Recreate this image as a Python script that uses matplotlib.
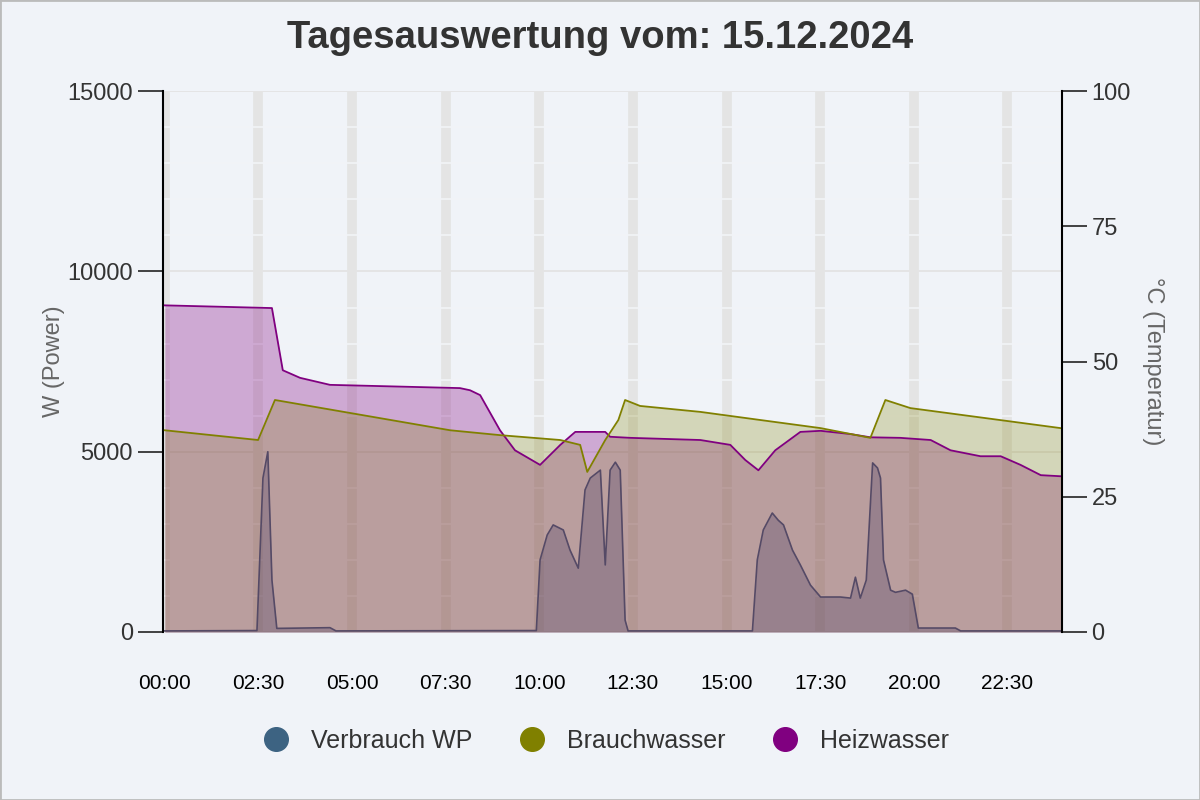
import matplotlib
matplotlib.use("Agg")
import matplotlib.pyplot as plt
from matplotlib.lines import Line2D

plt.rcParams["font.family"] = "Liberation Sans"

wp_h = [0, 2.46, 2.62, 2.75, 2.86, 2.99, 4.41, 4.57, 9.92, 10.02, 10.21, 10.37, 10.64, 10.82, 11.04, 11.22, 11.36, 11.63, 11.76, 11.89, 12.03, 12.16, 12.29, 12.37, 15.69, 15.82, 15.98, 16.22, 16.38, 16.52, 16.76, 16.97, 17.24, 17.51, 18.04, 18.31, 18.44, 18.57, 18.73, 18.90, 19.03, 19.11, 19.19, 19.38, 19.51, 19.78, 19.96, 20.12, 21.11, 21.25, 23.92]
wp_w = [30, 40, 4270, 5000, 1440, 100, 120, 30, 40, 2000, 2690, 2970, 2830, 2270, 1770, 3940, 4270, 4490, 1860, 4490, 4710, 4490, 330, 30, 30, 2000, 2830, 3300, 3100, 2970, 2270, 1860, 1300, 970, 970, 940, 1520, 940, 1440, 4690, 4550, 4270, 2000, 1160, 1100, 1160, 1050, 110, 110, 30, 30]

hz_h = [0, 2.86, 3.15, 3.61, 4.41, 7.88, 8.15, 8.42, 8.95, 9.35, 10.02, 10.56, 10.96, 11.76, 11.89, 12.43, 14.30, 15.10, 15.50, 15.85, 16.30, 16.97, 17.51, 18.31, 18.84, 19.64, 20.45, 20.98, 21.78, 22.32, 22.85, 23.39, 23.92]
hz_t = [60.4, 59.9, 48.4, 47.0, 45.7, 45.1, 44.7, 43.8, 37.3, 33.6, 30.9, 34.6, 37.0, 37.0, 36.1, 35.9, 35.5, 34.6, 31.8, 29.9, 33.6, 37.0, 37.2, 36.6, 36.0, 35.9, 35.5, 33.6, 32.5, 32.5, 30.9, 29.0, 28.8]

bw_h = [0, 2.49, 2.94, 7.62, 8.95, 10.56, 11.09, 11.28, 11.76, 12.11, 12.29, 12.69, 14.30, 15.90, 17.51, 18.84, 19.24, 19.91, 23.92]
bw_t = [37.3, 35.5, 42.9, 37.3, 36.4, 35.5, 34.6, 29.6, 35.5, 39.2, 42.9, 41.8, 40.7, 39.2, 37.7, 35.9, 42.9, 41.4, 37.7]

xticks = [0, 2.5, 5, 7.5, 10, 12.5, 15, 17.5, 20, 22.5]
xlabels = ["00:00", "02:30", "05:00", "07:30", "10:00", "12:30", "15:00", "17:30", "20:00", "22:30"]

bg = "#f0f3f8"
fig = plt.figure(figsize=(12, 8), dpi=100, facecolor=bg)
ax = fig.add_axes([0.1358, 0.21, 0.749, 0.676])
ax.set_facecolor(bg)
ax2 = ax.twinx()

for t in xticks:
    ax.axvline(t, color="#e4e4e4", lw=7, zorder=0)
for v in range(0, 15001, 1000):
    ax.axhline(v, color="#f2f4f7", lw=1.2, zorder=0.5)
for v in range(0, 15001, 5000):
    ax.axhline(v, color="#e2e2e2", lw=1.2, zorder=0.6)

ax.set_xlim(-0.05, 23.95)
ax.set_ylim(0, 15000)
ax2.set_ylim(0, 100)

ax2.fill_between(hz_h, hz_t, color="#800080", alpha=0.3, lw=0)
ax2.plot(hz_h, hz_t, color="#800080", lw=1.3)
ax2.fill_between(bw_h, bw_t, color="#808000", alpha=0.25, lw=0)
ax2.plot(bw_h, bw_t, color="#808000", lw=1.3)
ax2.fill_between(wp_h, [w / 150 for w in wp_w], color="#4a3f66", alpha=0.3, lw=0)
ax2.plot(wp_h, [w / 150 for w in wp_w], color="#554a66", lw=1.2)

ax.set_xticks(xticks)
ax.set_xticklabels(xlabels, fontsize=15, color="#000")
ax.set_yticks([0, 5000, 10000, 15000])
ax.tick_params(axis="y", labelsize=17, length=18, width=1.3, colors="#333")
ax.tick_params(axis="x", length=0, pad=30, labelsize=15)
ax2.set_yticks([0, 25, 50, 75, 100])
ax2.tick_params(axis="y", labelsize=17, length=18, width=1.3, colors="#333")
for a in (ax, ax2):
    for s in ("top", "bottom"):
        a.spines[s].set_visible(False)
ax.spines["left"].set_linewidth(1.5)
ax2.spines["right"].set_linewidth(1.5)
ax2.spines["left"].set_visible(False)
ax.spines["right"].set_visible(False)
ax.set_ylabel("W (Power)", fontsize=17, color="#666", labelpad=2)
ax2.set_ylabel("°C (Temperatur)", fontsize=17, color="#666", rotation=-90, labelpad=24)

fig.suptitle("Tagesauswertung vom: 15.12.2024", fontsize=27.5, fontweight="bold", color="#333", y=0.975)

handles = [Line2D([], [], marker="o", ls="", ms=17, color=c) for c in ("#3d6382", "#808000", "#800080")]
fig.legend(handles, ["Verbrauch WP", "Brauchwasser", "Heizwasser"], loc="center", bbox_to_anchor=(0.5, 0.074),
           ncol=3, frameon=False, fontsize=18, handletextpad=0.4, columnspacing=1.4, labelcolor="#333")

fig.patches.append(plt.Rectangle((0, 0), 1, 1, transform=fig.transFigure, fill=False, ec="#bbbbbb", lw=2))
fig.savefig("out.png", facecolor=bg)
